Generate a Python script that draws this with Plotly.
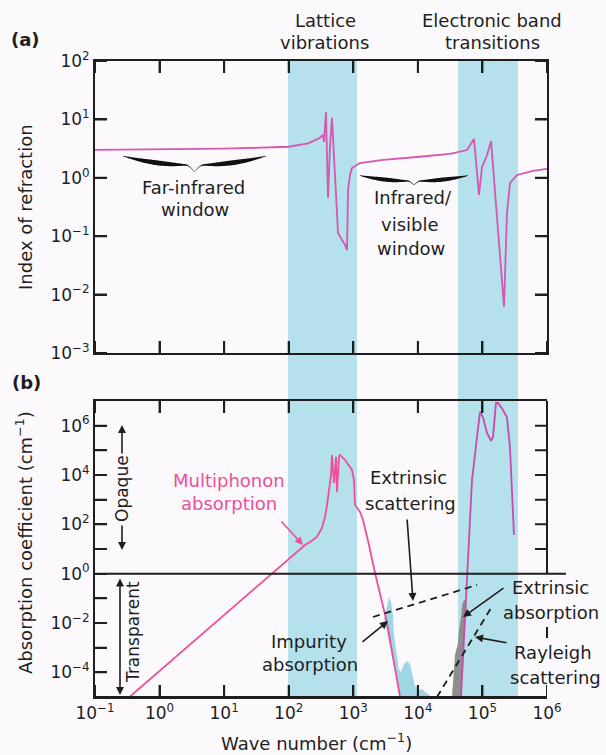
import numpy as np
import plotly.graph_objects as go

W, H = 606, 755


def px(x):
    return x / W


def py(y):
    return 1 - y / H


# ---------------- data ----------------
# (a) index of refraction vs wave number (cm^-1)
n_wave = [0.1, 1, 10, 100, 200, 302, 339, 352, 378, 406, 436, 468, 521, 580, 669, 745, 800,
          829, 890, 955, 1270, 2890, 9700, 31500, 57700, 74100, 88500, 98600, 110000, 118000,
          136000, 168000, 201000, 216000, 240000, 267000, 343000, 607000, 1000000]
n_index = [3.0, 3.05, 3.15, 3.4, 3.9, 4.8, 5.4, 4.1, 13.4, 0.45, 3.4, 10.6, 1.36, 0.114, 0.086,
           0.071, 0.058, 0.62, 1.12, 1.47, 1.79, 2.02, 2.27, 2.56, 2.99, 4.6, 0.51, 1.53, 2.02,
           2.46, 4.27, 0.19, 0.018, 0.0062, 0.25, 0.81, 1.12, 1.31, 1.42]

# (b) multiphonon absorption
mp_wave = [0.342, 179, 214, 274, 327, 365, 392, 421, 452, 468, 503, 540, 560, 601, 623, 745,
           955, 1026, 1064, 1270, 1416, 1750, 2170, 3330, 5300]
mp_alpha = [1e-5, 14.6, 19.3, 30.7, 71, 199, 608, 2470, 1.0e4, 6.5e4, 4740, 5.4e4, 2050, 5.4e4,
            6.5e4, 4.06e4, 1.6e4, 6280, 608, 317, 150, 14.6, 1.07, 0.01, 1e-5]

# (b) electronic absorption
el_wave = [46600, 57700, 69000, 82500, 91800, 102000, 118000, 136000, 146000, 162000, 174000,
           208000, 240000, 267000, 308000]
el_alpha = [1e-5, 1.07, 6280, 3.5e5, 3.6e6, 2.2e6, 5.0e5, 2.4e5, 3.5e5, 8.3e6, 8.3e6, 4.3e6,
            2.2e6, 1.36e5, 37]

# extrinsic scattering (dashed) and Rayleigh scattering (dashed)
ext_sc_wave = [2020, 82500]
ext_sc_alpha = [0.0175, 0.348]
ray_wave = [19800, 136000]
ray_alpha = [1e-5, 0.041]

# impurity absorption (blue filled outline)
imp_wave = [2990, 3330, 3570, 3840, 4110, 4270, 4580, 5100, 5480, 6100, 6790, 7550, 8410, 9040,
            10400, 11600, 12900, 14900, 16600, 5300, 3730, 3050]
imp_alpha = [0.0133, 0.054, 0.112, 0.071, 0.0214, 0.0032, 8.1e-4, 1.26e-4, 1.02e-4, 2.2e-4,
             2.9e-4, 2.2e-4, 6.5e-5, 2.8e-5, 1.95e-5, 2.1e-5, 1.6e-5, 1.2e-5, 1e-5, 1e-5,
             8.1e-4, 0.0133]

# extrinsic absorption (grey filled outline)
gray_wave = [33800, 35000, 37600, 41900, 43400, 46600, 48300, 51900, 55100, 46600]
gray_alpha = [1e-5, 4.9e-5, 5.0e-4, 1.55e-3, 5.2e-3, 0.0175, 0.054, 0.086, 0.086, 1e-5]

# shaded bands (cm^-1)
lattice_band = [97.5, 1143]
electronic_band = [41900, 355000]

x_ticks = [0.1, 1, 10, 100, 1e3, 1e4, 1e5, 1e6]
x_ticktext = ["10<sup>−1</sup>", "10<sup>0</sup>", "10<sup>1</sup>", "10<sup>2</sup>",
              "10<sup>3</sup>", "10<sup>4</sup>", "10<sup>5</sup>", "10<sup>6</sup>"]
ya_ticks = [1e-3, 1e-2, 1e-1, 1, 10, 100]
ya_ticktext = ["10<sup>−3</sup>", "10<sup>−2</sup>", "10<sup>−1</sup>", "10<sup>0</sup>",
               "10<sup>1</sup>", "10<sup>2</sup>"]
yb_ticks = [1e-4, 1e-3, 1e-2, 1e-1, 1, 10, 100, 1e3, 1e4, 1e5, 1e6]
yb_ticktext = ["10<sup>−4</sup>", " ", "10<sup>−2</sup>", " ", "10<sup>0</sup>", " ",
               "10<sup>2</sup>", " ", "10<sup>4</sup>", " ", "10<sup>6</sup>"]
yr_ticks = [10, 100, 1e3, 1e4, 1e5, 1e6]

# ---------------- style / geometry ----------------
BAND = "#b4e1eb"
IMP = "#9fd6e6"
GRAY = "#8e8e8e"
PINK_A = "#d457b0"
PINK_MP = "#ee4f98"
PINK_EL = "#c84aae"
INK = "#1e1e1e"
FONT = "DejaVu Sans"
TL = 12                       # tick length, px
LEFT, RIGHT = 95, 547         # plot-area edges, px
A_TOP, A_BOT = 61, 353        # panel (a) top / bottom, px
B_TOP, B_BOT = 401, 697       # panel (b) top / bottom, px

fig = go.Figure()


def line_trace(x, y, xa, ya, color, width=1.8, dash=None):
    fig.add_trace(go.Scatter(x=x, y=y, mode="lines", xaxis=xa, yaxis=ya,
                             line=dict(color=color, width=width, dash=dash), hoverinfo="skip"))


line_trace(n_wave, n_index, "x", "y", PINK_A)
fig.add_trace(go.Scatter(x=imp_wave, y=imp_alpha, mode="lines", fill="toself", fillcolor=IMP,
                         line=dict(width=0, color=IMP), xaxis="x2", yaxis="y2", hoverinfo="skip"))
fig.add_trace(go.Scatter(x=gray_wave, y=gray_alpha, mode="lines", fill="toself", fillcolor=GRAY,
                         line=dict(width=0, color=GRAY), xaxis="x2", yaxis="y2", hoverinfo="skip"))
line_trace(mp_wave, mp_alpha, "x2", "y2", PINK_MP)
line_trace(el_wave, el_alpha, "x2", "y2", PINK_EL)
line_trace(ext_sc_wave, ext_sc_alpha, "x2", "y2", INK, dash="7px,5px")
line_trace(ray_wave, ray_alpha, "x2", "y2", INK, dash="7px,5px")

XD = [px(LEFT), px(RIGHT)]
common = dict(type="log", showline=True, linecolor=INK, linewidth=2, ticks="inside", ticklen=TL,
              tickwidth=2, tickcolor=INK, showgrid=False, zeroline=False, automargin=False,
              tickmode="array", tickfont=dict(family=FONT, size=17, color=INK))

fig.update_layout(
    width=W, height=H, margin=dict(l=0, r=0, t=0, b=0), template="none",
    paper_bgcolor="#fcf9fc", plot_bgcolor="rgba(0,0,0,0)", showlegend=False,
    xaxis=dict(common, domain=XD, range=[-1, 6], anchor="y", mirror="ticks",
               tickvals=x_ticks, showticklabels=False),
    yaxis=dict(common, domain=[py(A_BOT), py(A_TOP)], range=[-3, 2], anchor="x", mirror="ticks",
               tickvals=ya_ticks, ticktext=ya_ticktext),
    xaxis2=dict(common, domain=XD, range=[-1, 6], anchor="y2", mirror="ticks",
                tickvals=x_ticks, ticktext=x_ticktext),
    yaxis2=dict(common, domain=[py(B_BOT), py(B_TOP)], range=[-5, 7], anchor="x2",
                tickvals=yb_ticks, ticktext=yb_ticktext),
)

shapes = []
for b in (lattice_band, electronic_band):
    shapes.append(dict(type="rect", xref="x", yref="paper", x0=b[0], x1=b[1],
                       y0=py(B_BOT), y1=py(A_TOP), fillcolor=BAND, line=dict(width=0),
                       layer="below"))

stroke = dict(color=INK, width=2)


def f(v):
    return f"{v:.10f}"


# x tick marks (inside) for both panels: one path per panel, x in data values
for xref, top, bot in (("x", A_TOP, A_BOT), ("x2", B_TOP, B_BOT)):
    segs = []
    for v in x_ticks:
        segs.append(f"M {f(v)},{f(py(bot))} L {f(v)},{f(py(bot - TL))}")
        segs.append(f"M {f(v)},{f(py(top))} L {f(v)},{f(py(top + TL))}")
    shapes.append(dict(type="path", xref=xref, yref="paper", path=" ".join(segs), line=stroke))

# y tick marks (inside): y in data values
segs = []
for v in ya_ticks:
    segs.append(f"M {f(px(LEFT))},{f(v)} L {f(px(LEFT + TL))},{f(v)}")
    segs.append(f"M {f(px(RIGHT))},{f(v)} L {f(px(RIGHT - TL))},{f(v)}")
shapes.append(dict(type="path", xref="paper", yref="y", path=" ".join(segs), line=stroke))
segs = []
for v in yb_ticks:
    segs.append(f"M {f(px(LEFT))},{f(v)} L {f(px(LEFT + TL))},{f(v)}")
for v in yr_ticks:
    segs.append(f"M {f(px(RIGHT))},{f(v)} L {f(px(RIGHT - TL))},{f(v)}")
# partial right axis of panel (b), from alpha = 1 to the top
segs.append(f"M {f(px(RIGHT))},{f(1)} L {f(px(RIGHT))},{f(1e7)}")
# alpha = 1 line, extending past the right axis
segs.append(f"M {f(px(LEFT))},{f(1)} L {f(px(566))},{f(1)}")
shapes.append(dict(type="path", xref="paper", yref="y2", path=" ".join(segs), line=stroke))

# small bar between the two right-hand labels
shapes.append(dict(type="path", xref="paper", yref="paper",
                   path=f"M {f(px(547))},{f(py(627))} L {f(px(547))},{f(py(638))} "
                        f"M {f(px(LEFT))},{f(py(B_BOT))} L {f(px(RIGHT))},{f(py(B_BOT))}",
                   line=stroke))


def brace_path(xL, xR, yE, yB, yT, t):
    xm = (xL + xR) / 2
    u = np.linspace(0, 1, 60)
    yc = yB - (yB - yE) * (1 - u) ** 2.2 + (yT - yB) * np.clip((u - 0.88) / 0.12, 0, 1) ** 1.6
    th = t * np.sin(np.pi * np.clip(u * 1.05, 0, 1)) ** 1.2 + 0.7
    xl = xL + u * (xm - xL)
    xr = xR - u * (xR - xm)
    up = yc - th / 2
    lo = yc + th / 2
    pts = list(zip(xl, up)) + list(zip(xr[::-1], up[::-1])) + \
        list(zip(xr, lo)) + list(zip(xl[::-1], lo[::-1]))
    return "M " + " L ".join(f"{px(a):.5f},{py(b):.5f}" for a, b in pts) + " Z"


shapes.append(dict(type="path", xref="paper", yref="paper",
                   path=brace_path(123, 266, 156, 165, 172, 4.2),
                   fillcolor="#111111", line=dict(width=0)))
shapes.append(dict(type="path", xref="paper", yref="paper",
                   path=brace_path(360, 468, 175.5, 181, 185, 3.4),
                   fillcolor="#111111", line=dict(width=0)))
fig.update_layout(shapes=shapes)

ann = []


def text(x, y, s, size=18, color=INK, angle=0):
    ann.append(dict(x=px(x), y=py(y), xref="paper", yref="paper", text=s, showarrow=False,
                    xanchor="center", yanchor="middle", textangle=angle,
                    font=dict(family=FONT, size=size, color=color)))


def arrow(hx, hy, tx_, ty_, color=INK, both=False):
    ann.append(dict(x=px(hx), y=py(hy), xref="paper", yref="paper", ax=tx_ - hx, ay=ty_ - hy,
                    axref="pixel", ayref="pixel", text="", showarrow=True, arrowhead=2,
                    startarrowhead=2, arrowside="end+start" if both else "end",
                    arrowsize=1, arrowwidth=1.6, arrowcolor=color, standoff=0, startstandoff=0))


text(25, 39, "<b>(a)</b>", 18)
text(26, 382, "<b>(b)</b>", 18)
text(325, 20, "Lattice")
text(324, 43, "vibrations")
text(492, 20, "Electronic band")
text(492, 43, "transitions")
text(193, 188, "Far-infrared")
text(195, 210, "window")
text(413, 198, "Infrared/")
text(410, 225, "visible")
text(411, 248, "window")
text(26, 207, "Index of refraction", 18, angle=-90)
text(24, 543, "Absorption coefficient (cm<sup>−1</sup>)", 18, angle=-90)
text(317, 742, "Wave number (cm<sup>−1</sup>)", 18)
text(229, 480, "Multiphonon", 18, color=PINK_MP)
text(229, 503, "absorption", 18, color=PINK_MP)
text(408, 477, "Extrinsic")
text(410, 503, "scattering")
text(309, 641, "Impurity")
text(310, 664, "absorption")
text(550, 587, "Extrinsic")
text(551, 612, "absorption")
text(553, 652, "Rayleigh")
text(555, 677, "scattering")
text(122, 489, "Opaque", 17, angle=-90)
text(133, 632, "Transparent", 17, angle=-90)

arrow(303, 545, 280, 520, color=PINK_MP)
arrow(413, 601, 407, 518)
arrow(388, 621, 361, 643)
arrow(463, 617, 505, 587)
arrow(475, 637, 508, 643)
arrow(122, 425, 122, 455)
arrow(122, 550, 122, 524)
arrow(120, 695, 120, 577, both=True)

fig.update_layout(annotations=ann)
fig.write_html("out.html")
